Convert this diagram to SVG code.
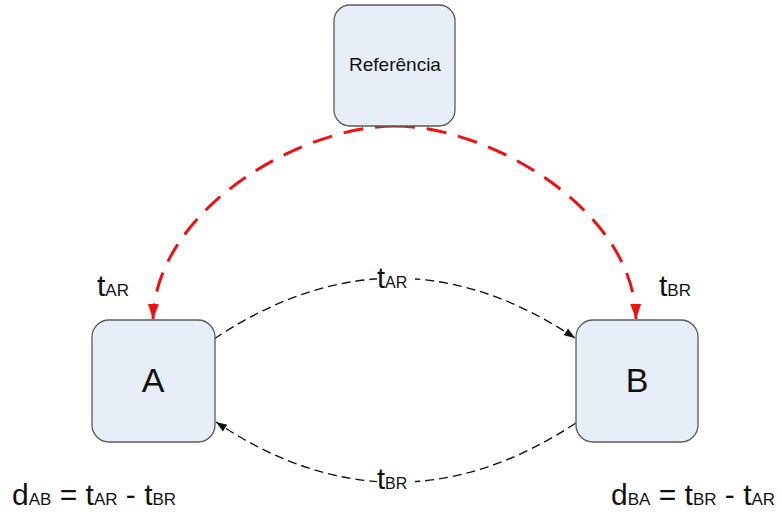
<svg xmlns="http://www.w3.org/2000/svg" width="782" height="513" viewBox="0 0 782 513">
  <style>
    .box { fill: #e8eef8; stroke: #5a5a5a; stroke-width: 1.3; }
    .lbl { font-family: "Liberation Sans", Arial, sans-serif; fill: #111; }
    .red { fill: none; stroke: #ee1111; stroke-width: 3; stroke-dasharray: 20 12; }
    .blk { fill: none; stroke: #111; stroke-width: 1.4; stroke-dasharray: 9 5; }
  </style>
  <defs>
    <marker id="redArrow" markerUnits="userSpaceOnUse" markerWidth="16" markerHeight="12" refX="15" refY="6" orient="auto">
      <path d="M0,0.5 L15,6 L0,11.5 Z" fill="#ee1111"/>
    </marker>
    <marker id="blkArrow" markerUnits="userSpaceOnUse" markerWidth="12" markerHeight="10" refX="11" refY="5" orient="auto">
      <path d="M0,1 L11,5 L0,9 Z" fill="#111"/>
    </marker>
  </defs>

  <rect width="782" height="513" fill="#ffffff"/>

  <!-- connectors -->
  <g id="connectors">
    <path class="red" d="M395,126 C300,126 156,210 153,319" marker-end="url(#redArrow)"/>
    <path class="red" d="M395,126 C490,126 634,210 636,319" marker-end="url(#redArrow)"/>
    <path class="blk" d="M214,339 Q395,218 575,338" marker-end="url(#blkArrow)"/>
    <path class="blk" d="M576,423 Q395,542 216,422" marker-end="url(#blkArrow)"/>
    <!-- labels on the dashed arcs -->
    <rect x="377" y="265" width="38" height="27" fill="#ffffff"/>
    <text class="lbl" x="377" y="288"><tspan font-size="29">t</tspan><tspan font-size="16">AR</tspan></text>
    <rect x="377" y="467" width="38" height="25" fill="#ffffff"/>
    <text class="lbl" x="377" y="489"><tspan font-size="29">t</tspan><tspan font-size="16">BR</tspan></text>
  </g>

  <!-- nodes -->
  <g id="ref">
    <rect class="box" x="334" y="5" width="121" height="121" rx="16"/>
    <text class="lbl" x="395" y="71" font-size="19" text-anchor="middle">Referência</text>
  </g>
  <g id="A">
    <rect class="box" x="92" y="320" width="123" height="122" rx="17"/>
    <text class="lbl" x="153" y="392" font-size="34" text-anchor="middle">A</text>
    <text class="lbl" x="97" y="296"><tspan font-size="30">t</tspan><tspan font-size="17">AR</tspan></text>
  </g>
  <g id="B">
    <rect class="box" x="576" y="320" width="122" height="122" rx="17"/>
    <text class="lbl" x="637" y="392" font-size="34" text-anchor="middle">B</text>
    <text class="lbl" x="659" y="296"><tspan font-size="30">t</tspan><tspan font-size="17">BR</tspan></text>
  </g>

  <!-- distance formulas -->
  <g id="formulas">
    <text class="lbl" x="12" y="505"><tspan font-size="30">d</tspan><tspan font-size="17">AB</tspan><tspan font-size="30"> = t</tspan><tspan font-size="17">AR</tspan><tspan font-size="30"> - t</tspan><tspan font-size="17">BR</tspan></text>
    <text class="lbl" x="611" y="505"><tspan font-size="30">d</tspan><tspan font-size="17">BA</tspan><tspan font-size="30"> = t</tspan><tspan font-size="17">BR</tspan><tspan font-size="30"> - t</tspan><tspan font-size="17">AR</tspan></text>
  </g>
</svg>
